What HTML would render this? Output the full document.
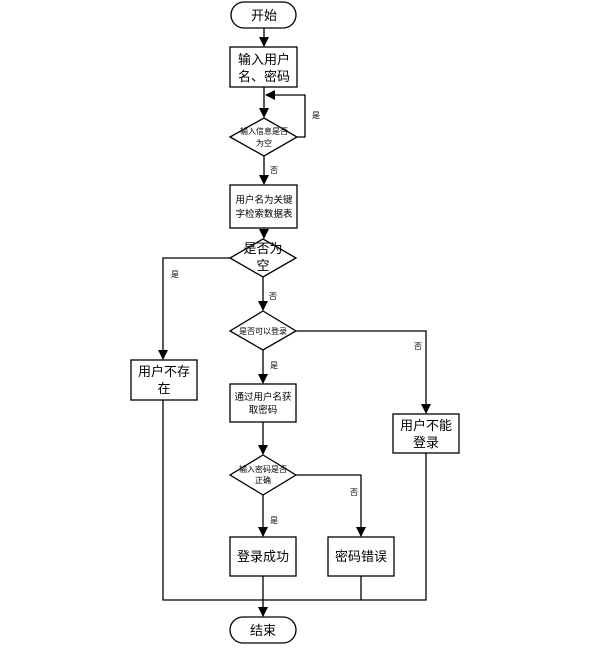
<!DOCTYPE html>
<html><head><meta charset="utf-8"><style>
body{margin:0;background:#fff;}
svg text{font-family:"Liberation Sans","Noto Sans CJK SC",sans-serif;fill:#000;text-anchor:middle;}
</style></head><body>
<svg width="607" height="650" viewBox="0 0 607 650" xmlns="http://www.w3.org/2000/svg">
<defs><marker id="a" markerWidth="10" markerHeight="10" refX="9" refY="5" orient="auto" markerUnits="userSpaceOnUse"><path d="M0,0 L10,5 L0,10 z" fill="#000"/></marker></defs>
<g stroke="#000" stroke-width="1.3" fill="none">
<rect x="231" y="2" width="65" height="26" rx="13" fill="#fff"/>
<line x1="264" y1="28" x2="264" y2="46" marker-end="url(#a)"/>
<rect x="230" y="47" width="67" height="40"/>
<line x1="264" y1="87" x2="264" y2="117" marker-end="url(#a)"/>
<polyline points="297,137 305,137 305,95 266,95" marker-end="url(#a)"/>
<polygon points="264,118 297,137 264,156 230,137"/>
<line x1="264" y1="156" x2="264" y2="184" marker-end="url(#a)"/>
<rect x="230" y="185" width="67" height="43"/>
<line x1="264" y1="228" x2="264" y2="238" marker-end="url(#a)"/>
<polygon points="263,239 296,258 263,277 230,258"/>
<polyline points="230,258 163,258 163,359" marker-end="url(#a)"/>
<line x1="263" y1="277" x2="263" y2="310" marker-end="url(#a)"/>
<polygon points="263,311 296,331 263,350 230,331"/>
<polyline points="296,331 426,331 426,413" marker-end="url(#a)"/>
<line x1="263" y1="350" x2="263" y2="383" marker-end="url(#a)"/>
<rect x="131" y="360" width="66" height="40"/>
<rect x="230" y="384" width="66" height="38"/>
<rect x="393" y="414" width="66" height="39"/>
<line x1="263" y1="422" x2="263" y2="454" marker-end="url(#a)"/>
<polygon points="263,455 296,475 263,495 230,475"/>
<polyline points="296,475 361,475 361,536" marker-end="url(#a)"/>
<line x1="263" y1="495" x2="263" y2="536" marker-end="url(#a)"/>
<rect x="230" y="537" width="66" height="39"/>
<rect x="328" y="537" width="66" height="39"/>
<polyline points="163,400 163,600 426,600 426,453"/>
<line x1="263" y1="576" x2="263" y2="616" marker-end="url(#a)"/>
<line x1="361" y1="576" x2="361" y2="600"/>
<rect x="230" y="617" width="66" height="26" rx="13" fill="#fff"/>
</g>
<text x="264" y="20" font-size="13">开始</text>
<text x="264" y="64" font-size="13">输入用户</text>
<text x="264" y="81" font-size="13">名、密码</text>
<text x="264" y="134" font-size="8">输入信息是否</text>
<text x="264" y="146" font-size="8">为空</text>
<text x="316" y="118" font-size="8">是</text>
<text x="274" y="173" font-size="8">否</text>
<text x="264" y="203" font-size="9.5">用户名为关键</text>
<text x="264" y="217" font-size="9.5">字检索数据表</text>
<text x="263" y="253" font-size="13">是否为</text>
<text x="263" y="270" font-size="13">空</text>
<text x="175" y="277" font-size="8">是</text>
<text x="273" y="299" font-size="8">否</text>
<text x="263" y="334" font-size="8">是否可以登录</text>
<text x="418" y="349" font-size="8">否</text>
<text x="274" y="368" font-size="8">是</text>
<text x="164" y="376" font-size="13">用户不存</text>
<text x="164" y="393" font-size="13">在</text>
<text x="263" y="400" font-size="9.5">通过用户名获</text>
<text x="263" y="413" font-size="9.5">取密码</text>
<text x="426" y="430" font-size="13">用户不能</text>
<text x="426" y="447" font-size="13">登录</text>
<text x="263" y="472" font-size="8">输入密码是否</text>
<text x="263" y="483" font-size="8">正确</text>
<text x="354" y="495" font-size="8">否</text>
<text x="274" y="523" font-size="8">是</text>
<text x="263" y="561" font-size="13">登录成功</text>
<text x="361" y="561" font-size="13">密码错误</text>
<text x="263" y="635" font-size="13">结束</text>
</svg>
</body></html>
